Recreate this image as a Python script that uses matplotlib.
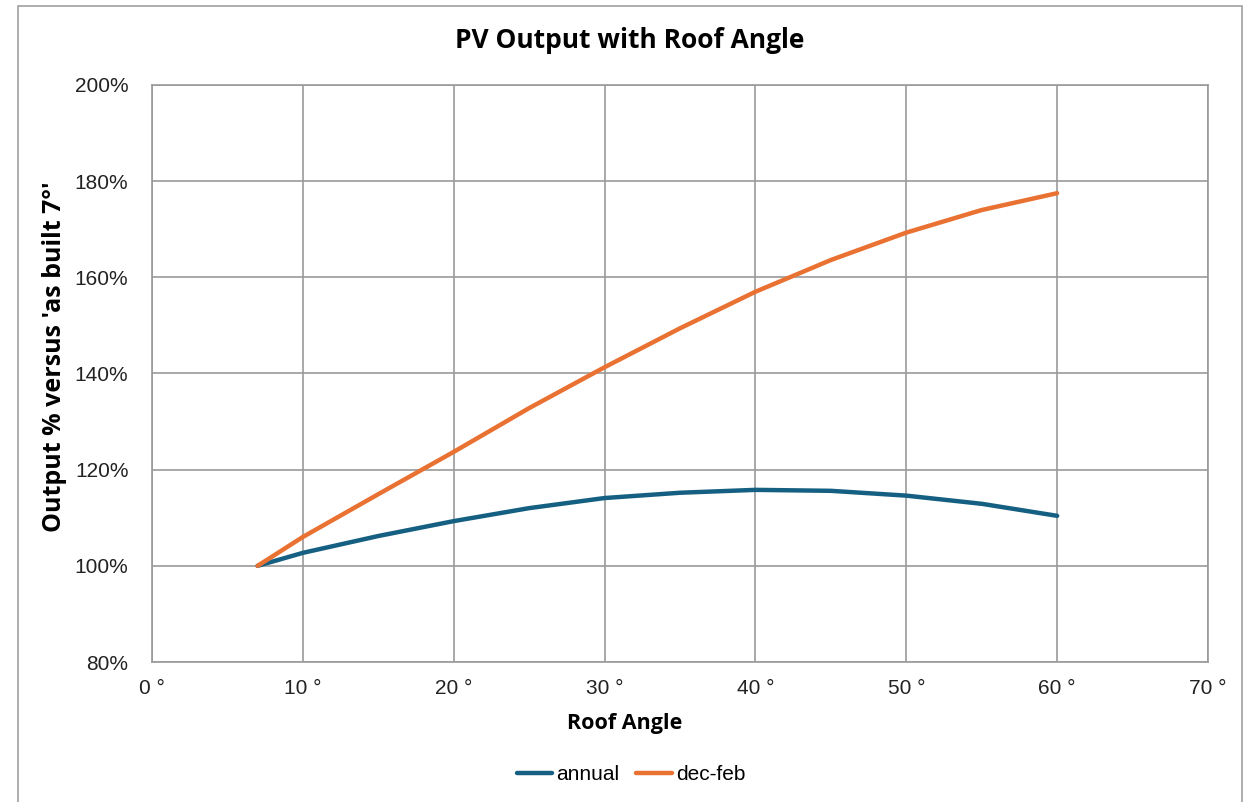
import matplotlib.pyplot as plt
from matplotlib.patches import Rectangle
from matplotlib.ticker import FuncFormatter, MultipleLocator

# Data
angles = [7, 10, 15, 20, 25, 30, 35, 40, 45, 50, 55, 60]
annual = [100, 102.7, 106.2, 109.3, 112.0, 114.1, 115.2, 115.8, 115.6, 114.6, 112.9, 110.4]
decfeb = [100, 106.0, 114.9, 123.7, 132.8, 141.3, 149.4, 157.0, 163.6, 169.3, 174.0, 177.5]

blue = '#156082'
orange = '#E97132'
grid = '#9a9a9a'
bold_font = ['Open Sans', 'DejaVu Sans']

plt.rcParams['font.family'] = ['Liberation Sans', 'DejaVu Sans']

fig = plt.figure(figsize=(12.53, 8.02), dpi=100)
ax = fig.add_axes([152/1253, 1-662/802, (1208-152)/1253, (662-85)/802])

# outer chart border
fig.patches.append(Rectangle((18/1253, -0.05), (1242-18)/1253, 1-6/802+0.05,
                             transform=fig.transFigure, fill=False,
                             edgecolor='#a0a0a0', linewidth=1.2))

ax.plot(angles, annual, color=blue, linewidth=3.2, label='annual', solid_capstyle='round')
ax.plot(angles, decfeb, color=orange, linewidth=3.2, label='dec-feb', solid_capstyle='round')

ax.set_xlim(0, 70)
ax.set_ylim(80, 200)
ax.xaxis.set_major_locator(MultipleLocator(10))
ax.yaxis.set_major_locator(MultipleLocator(20))
ax.xaxis.set_major_formatter(FuncFormatter(lambda v, p: '%d °' % v))
ax.yaxis.set_major_formatter(FuncFormatter(lambda v, p: '%d%%' % v))
ax.grid(True, color=grid, linewidth=1.2)
ax.set_axisbelow(True)
for s in ax.spines.values():
    s.set_color(grid)
    s.set_linewidth(1.2)
ax.tick_params(length=0, labelsize=15, colors='#222222')
ax.tick_params(axis='y', pad=17)
ax.tick_params(axis='x', pad=12)

fig.text(630/1253, 1-40/802, 'PV Output with Roof Angle', fontsize=19, fontweight='bold',
         ha='center', va='center', family=bold_font)
ax.set_xlabel('Roof Angle', fontsize=15.5, fontweight='bold', family=bold_font)
ax.xaxis.set_label_coords((625-152)/1056, (662-723)/577)
ax.xaxis.label.set_va('center')
ax.set_ylabel("Output % versus 'as built 7°'", fontsize=18, fontweight='bold', family=bold_font)
ax.yaxis.set_label_coords((55-152)/1056, (662-357)/577)
ax.yaxis.label.set_va('center')

fig.legend(loc='center', bbox_to_anchor=(631/1253, 1-775/802), ncol=2, frameon=False,
           fontsize=15, handlelength=1.7, handletextpad=0.2, columnspacing=0.8)

fig.savefig('out.png', dpi=100)
